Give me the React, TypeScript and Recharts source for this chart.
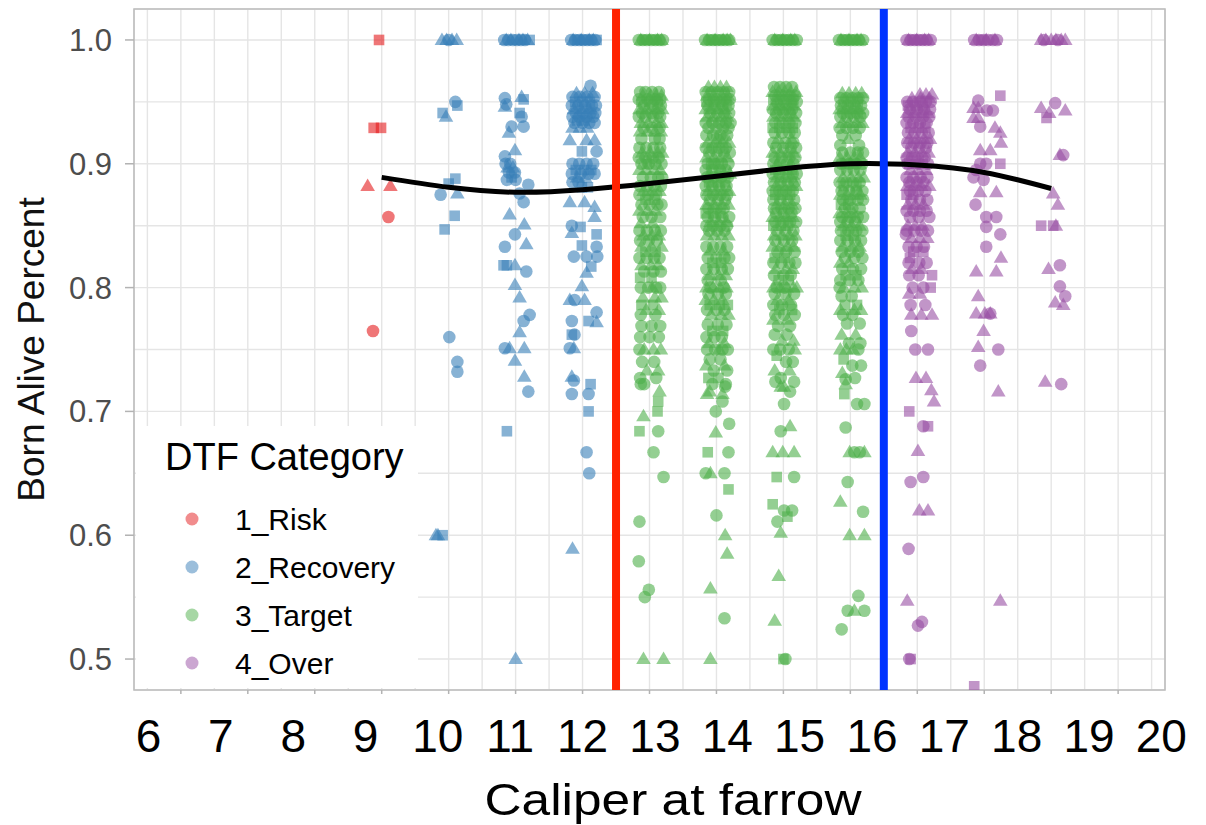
import React from 'react';
import {
  ComposedChart,
  Scatter,
  Line,
  XAxis,
  YAxis,
  CartesianGrid,
  ReferenceLine,
  ReferenceArea,
} from 'recharts';

// Row format: [born alive %, shape (0 circle, 1 triangle, 2 square), ...jitter offsets in 1/100 caliper units]
type Row = number[];

const riskCal9: Row[] = [
  [1.0, 2, -4], [0.929, 2, -12, -1], [0.882, 1, -21, 13], [0.857, 0, 10], [0.765, 0, -13],
];

const recoveryCal10: Row[] = [
  [1.0, 1, -10, -3, 5, 12], [1.0, 0, 0], [0.95, 0, 10], [0.947, 2, 13], [0.941, 2, -9], [0.938, 1, -4],
  [0.888, 2, 10], [0.884, 2, 0], [0.876, 1, 13], [0.875, 0, -12], [0.858, 2, 9], [0.847, 2, -6],
  [0.76, 0, 1], [0.74, 0, 13], [0.732, 0, 13], [0.6, 1, -19, -16], [0.6, 2, -9],
];

const recoveryCal11: Row[] = [
  [1.0, 0, -17, -11, -4, 2, 8, 14], [1.0, 1, -14, -7, 5, 11, 18], [1.0, 2, 21],
  [0.953, 0, -16], [0.954, 1, 9], [0.952, 2, 12], [0.946, 1, -16], [0.948, 0, -14], [0.941, 2, 6],
  [0.938, 0, 9], [0.93, 0, -6, 12], [0.925, 1, -10], [0.911, 1, -1], [0.906, 0, -16], [0.9, 0, -15, -8],
  [0.897, 1, -12, -4], [0.893, 0, -10, -1], [0.889, 2, -6], [0.887, 0, -13, 0], [0.883, 0, 19],
  [0.876, 0, 6], [0.869, 0, 12], [0.859, 1, -9], [0.851, 1, 13], [0.843, 0, -1], [0.833, 0, -16],
  [0.835, 1, 16], [0.818, 2, -18, -13], [0.818, 1, -1], [0.813, 0, 16], [0.802, 1, -1], [0.792, 1, 6],
  [0.778, 0, 21], [0.773, 0, 12], [0.764, 1, 6], [0.751, 0, -16], [0.751, 1, -9, 13], [0.741, 1, -1],
  [0.728, 1, 13], [0.716, 0, 19], [0.684, 2, -13], [0.5, 1, 0],
];

const recoveryCal12: Row[] = [
  [1.0, 0, -17, -11, -5, 1, 7, 13, 19], [1.0, 1, -14, -2, 10, 16], [1.0, 2, -8, 4, 21],
  [0.963, 0, 12], [0.957, 1, -9, 3, 15], [0.954, 0, -15, -4, 7, 18], [0.95, 2, -11, 0, 11],
  [0.947, 0, -16, -6, 4, 14, 20], [0.944, 1, -13, -2, 9], [0.941, 0, -10, 1, 12, 19],
  [0.938, 0, -15, -5, 6, 16], [0.935, 2, -8, 3], [0.933, 0, -12, 0, 10, 18], [0.929, 1, -15, -4, 7],
  [0.919, 1, -19, 6, 18], [0.91, 2, -1], [0.91, 0, 21],
  [0.9, 0, -15, -5, 6, 16], [0.895, 2, -10, 2, 13], [0.892, 0, -16, -3, 9, 18], [0.889, 1, -8, 4],
  [0.885, 0, -15, -6], [0.881, 2, -1, 8], [0.869, 1, -19, 3], [0.865, 1, 18], [0.857, 1, 18],
  [0.85, 0, -16], [0.849, 2, -3], [0.844, 1, -16], [0.843, 2, 21], [0.834, 2, -1], [0.833, 0, 21],
  [0.825, 0, -13, 6, 22], [0.817, 2, 13], [0.812, 1, 6], [0.801, 1, -1], [0.79, 1, -19, 3], [0.79, 0, -12],
  [0.78, 0, 21], [0.772, 1, 21], [0.773, 2, 9], [0.773, 0, -16], [0.762, 2, -16], [0.762, 0, -12],
  [0.751, 0, -19], [0.751, 1, -13], [0.728, 1, -16], [0.725, 0, -13], [0.722, 2, 12], [0.714, 0, 9, -16],
  [0.7, 2, 9], [0.667, 0, 6], [0.65, 0, 10], [0.589, 1, -15],
];

const targetCal13: Row[] = [
  [1.0, 0, -16, -10, -4, 3, 9, 15, 20], [1.0, 1, -13, 0, 12, 18], [1.0, 2, -7, 6],
  [0.958, 0, -14, -6, 4, 14], [0.955, 1, -10, 2, 10, 18], [0.952, 0, -16, -3, 8, 16], [0.95, 2, -12, 0, 12],
  [0.947, 0, -8, 5, 17], [0.944, 1, -15, -4, 9, 19], [0.941, 0, -11, 3, 13], [0.938, 0, -16, -6, 6, 16],
  [0.933, 1, -13, -2, 10, 18], [0.929, 0, -9, 4, 15], [0.926, 1, -14, -3, 8, 17], [0.92, 0, -12, 8, 15],
  [0.913, 0, -15, -5, 6, 16], [0.909, 1, -11, 1, 12, 19], [0.905, 0, -16, -6, 5, 14], [0.9, 0, -12, -1, 9, 18],
  [0.9, 2, -4], [0.895, 1, -15, -5, 7, 16], [0.889, 0, -10, 2, 13, 19],
  [0.882, 0, -14, -4, 7, 17], [0.878, 1, -9, 4, 15], [0.875, 0, -15, -2, 10], [0.871, 2, -6, 8],
  [0.867, 0, -12, 0, 12, 18], [0.862, 1, -15, -3, 9], [0.857, 0, -10, 3, 16], [0.852, 1, -13, 5],
  [0.846, 0, -15, -4, 8, 17], [0.842, 1, -9, 4, 14], [0.838, 0, -14, -1, 11], [0.833, 1, -12, 3, 18],
  [0.829, 2, -6, 9], [0.824, 0, -15, -4, 7, 15], [0.818, 1, -12, 2, 13], [0.813, 0, -8, 6, 17],
  [0.808, 2, -14, 3], [0.8, 0, -13, -2, 10, 16], [0.8, 1, 4], [0.792, 1, -10, 8, 18], [0.786, 2, -12, 5],
  [0.782, 1, -5, 14], [0.778, 0, -13, 9], [0.769, 0, -12, 3, 16], [0.76, 0, -14, 0, 14],
  [0.75, 1, -8, 6, 17], [0.75, 0, -15], [0.74, 0, -11, 7], [0.733, 1, -4, 13], [0.727, 0, -14, 10],
  [0.722, 0, -13, -8], [0.716, 1, 15], [0.708, 2, 13], [0.7, 2, 12], [0.696, 1, -9], [0.684, 2, -15],
  [0.684, 0, 13], [0.667, 0, 6], [0.647, 0, 21], [0.611, 0, -15], [0.579, 0, -16], [0.556, 0, -1],
  [0.55, 0, -7], [0.5, 1, -9, 21],
];

const targetCal14: Row[] = [
  [1.0, 0, -17, -11, -5, 1, 7, 13, 19], [1.0, 1, -14, -2, 10, 16, 21], [1.0, 2, -8, 4],
  [0.962, 1, -12, -3, 6, 15], [0.958, 0, -16, -7, 2, 11, 19], [0.955, 1, -14, -4, 8, 17],
  [0.952, 0, -11, 0, 12, 20], [0.95, 2, -15, -5, 5, 15], [0.947, 0, -13, -2, 9, 18],
  [0.944, 1, -16, -7, 3, 13], [0.941, 0, -10, 1, 11, 19], [0.938, 1, -14, -4, 7, 16],
  [0.933, 0, -16, -6, 4, 14, 21], [0.929, 0, -12, 0, 10, 18], [0.923, 0, -15, -5, 6, 16], [0.92, 2, 0, 10],
  [0.917, 1, -13, -2, 9, 19], [0.913, 0, -16, -6, 4, 14], [0.909, 0, -11, 0, 11, 20], [0.905, 1, -15, -4, 7, 16],
  [0.9, 0, -13, -3, 8, 18], [0.9, 2, -8, 3], [0.895, 0, -16, -6, 5, 14], [0.892, 1, -10, 2, 12, 20],
  [0.889, 0, -14, -4, 7, 17], [0.885, 2, -11, 1, 13], [0.882, 0, -16, -6, 4, 15], [0.878, 1, -12, 0, 10, 19],
  [0.875, 0, -15, -5, 6, 16], [0.871, 0, -10, 2, 13], [0.867, 1, -15, -4, 8, 18], [0.864, 0, -12, 0, 11],
  [0.86, 2, -16, -5, 6], [0.857, 0, -13, -2, 9, 19], [0.853, 1, -9, 3, 15], [0.85, 0, -15, -5, 6, 16],
  [0.846, 0, -11, 1, 12], [0.842, 1, -14, -3, 8, 18], [0.833, 0, -15, -5, 6, 16], [0.83, 1, -9, 10],
  [0.824, 0, -13, 0, 12, 19], [0.82, 2, -6, 7], [0.815, 0, -15, -4, 8, 17], [0.81, 1, -10, 3, 14],
  [0.806, 0, -13, 6], [0.8, 1, -15, -5, 5, 15], [0.8, 0, -9, 11], [0.795, 0, -12, 2, 14],
  [0.79, 1, -16, -4, 9], [0.786, 2, -10, 5, 17], [0.782, 0, -14, 0, 12], [0.778, 1, -8, 7, 18],
  [0.77, 0, -13, 2, 15], [0.765, 2, -6, 10], [0.76, 0, -15, -3, 8], [0.755, 1, -11, 12],
  [0.75, 0, -14, -2, 9, 17], [0.75, 1, 4], [0.742, 0, -10, 6], [0.737, 1, -15, 12], [0.733, 0, -4, 16],
  [0.727, 2, -12, 3], [0.722, 0, -6, 14], [0.72, 0, 13], [0.716, 1, -10], [0.714, 1, -14, 9],
  [0.708, 0, 9], [0.7, 0, -1], [0.69, 0, 19], [0.683, 1, -1], [0.667, 2, -13], [0.667, 0, 18],
  [0.65, 0, -16, 12], [0.65, 1, -9], [0.637, 2, 18], [0.616, 0, 0], [0.6, 1, 13], [0.585, 1, 16],
  [0.557, 1, -9], [0.533, 0, 12], [0.5, 1, -9],
];

const targetCal15: Row[] = [
  [1.0, 0, -16, -10, -4, 2, 8, 14, 20], [1.0, 1, -13, -1, 11, 17], [1.0, 2, -7, 5],
  [0.962, 0, -14, -5, 4, 13], [0.958, 1, -16, -7, 2, 11, 19], [0.955, 0, -12, -2, 8, 17],
  [0.952, 2, -15, -5, 5, 15], [0.95, 0, -10, 1, 12, 20], [0.947, 1, -14, -4, 7, 16],
  [0.944, 0, -16, -6, 3, 13], [0.941, 0, -11, 0, 10, 19], [0.938, 1, -15, -5, 6, 15],
  [0.933, 0, -12, -1, 9, 18], [0.929, 2, -16, -6, 4, 14], [0.925, 0, -13, -2, 9, 17], [0.92, 1, -8, 12],
  [0.917, 0, -15, 3, 15], [0.913, 0, -11, 0, 11, 19], [0.909, 1, -16, -5, 6, 15], [0.905, 0, -13, -2, 9, 18],
  [0.9, 0, -15, -5, 5, 15], [0.9, 1, -9, 11], [0.895, 2, -12, 1, 13], [0.892, 0, -16, -6, 4, 14, 20],
  [0.889, 1, -10, 2, 12], [0.885, 0, -14, -4, 7, 17], [0.882, 1, -11, 0, 11, 19], [0.878, 0, -16, -6, 4, 14],
  [0.875, 2, -12, -1, 10], [0.871, 0, -15, -5, 6, 16], [0.867, 1, -10, 2, 13], [0.864, 0, -14, -3, 8, 18],
  [0.86, 0, -11, 1, 12], [0.857, 1, -16, -6, 4, 14], [0.853, 0, -12, 0, 10, 19], [0.85, 2, -15, -4, 7],
  [0.846, 0, -10, 3, 15], [0.842, 1, -14, -2, 9, 18], [0.838, 0, -12, 1, 13], [0.833, 1, -16, -5, 6, 15],
  [0.829, 0, -9, 4, 17], [0.824, 2, -13, 2], [0.82, 0, -15, -3, 9, 18], [0.815, 1, -11, 4, 14],
  [0.81, 0, -14, 0, 11], [0.806, 2, -7, 8], [0.8, 1, -15, -5, 5, 15, 20], [0.8, 0, -10, 2],
  [0.795, 0, -13, 3, 16], [0.79, 1, -9, 8], [0.786, 0, -15, -2, 11], [0.782, 2, -6, 13],
  [0.778, 0, -12, 1, 17], [0.774, 1, -15, 6], [0.769, 0, -8, 10], [0.762, 0, -13, 5], [0.757, 1, -2, 15],
  [0.75, 0, -15, -5, 8], [0.75, 1, 17], [0.745, 2, -10], [0.74, 0, 4, 14], [0.733, 1, -13, 9], [0.727, 0, -4],
  [0.724, 0, -12, 16], [0.72, 1, 1, -4], [0.716, 0, 10], [0.706, 0, 1], [0.684, 0, -4], [0.688, 1, 10],
  [0.667, 1, -16, 16, -1], [0.647, 2, -10], [0.647, 0, 16], [0.625, 2, -16], [0.62, 0, 1, 13],
  [0.615, 2, 6], [0.611, 0, -9], [0.602, 1, -4], [0.567, 1, -7], [0.531, 1, -13], [0.5, 0, 3], [0.5, 2, 0],
];

const targetCal16: Row[] = [
  [1.0, 0, -17, -11, -5, 1, 7, 13, 19], [1.0, 1, -14, -2, 10, 16], [1.0, 2, -8, 4],
  [0.957, 1, -12, -2, 8, 17], [0.953, 0, -15, -6, 3, 12, 19], [0.95, 2, -10, 1, 11],
  [0.947, 0, -14, -4, 6, 16], [0.944, 1, -16, -7, 3, 13], [0.941, 0, -11, 0, 10, 19],
  [0.938, 0, -15, -5, 6, 15], [0.933, 1, -12, -2, 9, 18], [0.929, 0, -16, -6, 4, 14],
  [0.923, 0, -12, 8], [0.92, 1, -3], [0.915, 0, -15, 13],
  [0.909, 0, -12, 0, 11, 19], [0.905, 1, -16, -5, 6, 15], [0.9, 0, -13, -2, 9, 18], [0.9, 2, -8, 4],
  [0.895, 0, -15, -5, 5, 15], [0.889, 1, -11, 1, 12, 20], [0.885, 0, -16, -6, 4, 14], [0.882, 2, -10, 9],
  [0.878, 0, -13, -2, 9, 18], [0.875, 1, -15, -5, 5, 15], [0.871, 0, -11, 0, 11, 19], [0.867, 2, -14, -3],
  [0.864, 0, -8, 3, 14], [0.86, 1, -16, -6, 5], [0.857, 0, -12, 0, 11, 19], [0.853, 0, -15, -4, 7],
  [0.85, 1, -10, 2, 14], [0.846, 0, -14, -3, 9, 18], [0.842, 2, -7, 5], [0.838, 0, -15, -4, 7, 16],
  [0.833, 1, -11, 3, 14], [0.829, 0, -13, 0, 12], [0.824, 0, -8, 6, 18], [0.82, 1, -15, -2],
  [0.815, 0, -12, 4, 16], [0.81, 2, -7, 9], [0.806, 0, -15, -1, 12], [0.8, 1, -10, 6, 17], [0.8, 0, -16],
  [0.793, 0, -13, 2], [0.786, 2, -8, 10], [0.782, 1, -15, 6, 16], [0.778, 0, -11, 3], [0.771, 0, -5, 14],
  [0.762, 1, -13, 8], [0.755, 0, -2, 15], [0.75, 1, -15, -6, 4], [0.75, 0, 12], [0.742, 2, -10],
  [0.737, 0, 3, 16], [0.731, 1, -12], [0.727, 0, 7], [0.726, 0, -7], [0.722, 1, -7], [0.714, 2, -9],
  [0.706, 0, 10, 21], [0.687, 0, -7], [0.667, 1, -1, 21], [0.667, 0, 6, 14], [0.643, 0, -4],
  [0.627, 1, -15], [0.619, 0, 19], [0.6, 1, -1, 21], [0.551, 0, 12], [0.539, 0, -4, 21], [0.539, 1, 6],
  [0.524, 0, -13],
];

const overCal17: Row[] = [
  [1.0, 0, -16, -10, -4, 2, 8, 14, 20], [1.0, 1, -13, -1, 11, 17], [1.0, 2, -7, 5],
  [0.956, 1, 4, 13, 22], [0.953, 1, -8, 5, 18], [0.95, 0, -15, -6, 4, 13, 20], [0.947, 2, -14, -3, 8],
  [0.944, 0, -11, 0, 10, 19], [0.941, 1, -15, -5, 6, 16], [0.938, 0, -13, -2, 9, 18],
  [0.933, 0, -16, -6, 4, 14], [0.929, 2, -10, 2, 12], [0.925, 0, -14, -4, 7, 17], [0.92, 1, -12, -1, 10, 19],
  [0.917, 0, -15, -5, 5, 15], [0.913, 0, -9, 3, 13], [0.909, 1, -14, -4, 7, 17], [0.905, 0, -16, -8, 1, 11],
  [0.9, 2, -12, -2, 8], [0.9, 0, -15, 3, 16], [0.895, 1, -10, 1, 13], [0.889, 0, -16, -6, 5, 15],
  [0.885, 0, -12, -1, 9], [0.882, 1, -15, -5, 6, 18], [0.878, 0, -11, 1, 12], [0.875, 2, -16, -6],
  [0.871, 0, -9, 4, 15], [0.867, 1, -14, -3, 9], [0.862, 0, -16, -6, 4, 14], [0.857, 0, -11, 2, 18],
  [0.85, 1, -14, -3, 8], [0.846, 0, -16, -5, 6, 16], [0.843, 0, -17], [0.84, 1, -9, 4, 15],
  [0.833, 0, -13, -1, 10], [0.829, 2, -6, 9], [0.824, 2, -11], [0.82, 0, -13, 3, 14], [0.815, 1, -8, 6],
  [0.81, 2, 22], [0.81, 0, -12, 2], [0.8, 2, 20], [0.8, 0, -7, 9], [0.795, 1, -12, 4], [0.786, 0, -10, 12],
  [0.778, 1, -9, 6, 22], [0.765, 0, -9], [0.75, 0, -3, 16], [0.727, 1, -2, 13], [0.717, 1, 21],
  [0.708, 1, 25], [0.7, 2, -12], [0.688, 0, 9], [0.688, 2, 16], [0.668, 1, 1], [0.647, 0, 9],
  [0.643, 0, -10], [0.62, 1, 3, 16], [0.589, 0, -13], [0.547, 1, -15], [0.53, 0, 7], [0.527, 0, 1],
  [0.5, 0, -12], [0.5, 2, -10],
];

const overCal18: Row[] = [
  [1.0, 0, -15, -8, -1, 6, 13, 19], [1.0, 1, -12, 3, 16], [1.0, 2, -4],
  [0.955, 2, 24], [0.951, 0, -9], [0.945, 1, -16, -9], [0.943, 0, 4, 13], [0.937, 1, -16, -9],
  [0.93, 0, -6], [0.929, 1, 16], [0.925, 1, 24], [0.917, 1, 25], [0.911, 1, -6, 9], [0.9, 0, -6, 3],
  [0.9, 2, 24], [0.895, 0, -12], [0.889, 0, -16], [0.887, 0, -1], [0.877, 1, -6, 18], [0.867, 0, -13],
  [0.857, 0, 3, 18], [0.849, 0, 3], [0.843, 0, 24], [0.833, 0, 3], [0.824, 1, 25], [0.813, 1, -12, 18],
  [0.793, 1, -9], [0.779, 1, -12, 1, 9], [0.779, 0, 9], [0.765, 1, -1], [0.752, 1, -9], [0.75, 0, 21],
  [0.737, 0, -6], [0.716, 1, 21], [0.547, 1, 24], [0.478, 2, -15],
];

const overCal19: Row[] = [
  [1.0, 1, -15, -8, 0, 7, 15, 21], [1.0, 0, -11, 10],
  [0.949, 0, 6], [0.945, 1, -15], [0.943, 1, 21], [0.941, 1, -3], [0.937, 2, -7], [0.907, 0, 18],
  [0.907, 1, 13], [0.876, 1, 3], [0.867, 1, 10], [0.85, 2, -15, 3], [0.85, 1, 7], [0.818, 0, 13],
  [0.815, 1, -4], [0.801, 0, 13], [0.793, 0, 21], [0.788, 1, 6], [0.786, 1, 18], [0.724, 1, -9],
  [0.722, 0, 15],
];

const categories = ['1_Risk', '2_Recovery', '3_Target', '4_Over'];
const categoryColors = ['#E41A1C', '#377EB8', '#4DAF4A', '#984EA3'];
const categoryColumns = [
  [{ caliper: 9, rows: riskCal9 }],
  [
    { caliper: 10, rows: recoveryCal10 },
    { caliper: 11, rows: recoveryCal11 },
    { caliper: 12, rows: recoveryCal12 },
  ],
  [
    { caliper: 13, rows: targetCal13 },
    { caliper: 14, rows: targetCal14 },
    { caliper: 15, rows: targetCal15 },
    { caliper: 16, rows: targetCal16 },
  ],
  [
    { caliper: 17, rows: overCal17 },
    { caliper: 18, rows: overCal18 },
    { caliper: 19, rows: overCal19 },
  ],
];

// smooth (loess) fit
const smoothCaliper = [9, 10, 11, 12, 13, 14, 15, 16, 17, 18, 19];
const smoothBornAlive = [0.889, 0.881, 0.877, 0.879, 0.884, 0.89, 0.896, 0.9, 0.899, 0.893, 0.88];

const thresholds = [12.5, 16.5];
const thresholdColors = ['#FF2200', '#0033FF'];

// grid breaks (major + minor)
const yGridTicks = [0.5, 0.55, 0.6, 0.65, 0.7, 0.75, 0.8, 0.85, 0.9, 0.95, 1.0];
const xGridTicks = [
  5.5, 6, 6.5, 7, 7.5, 8, 8.5, 9, 9.5, 10, 10.5, 11, 11.5, 12, 12.5, 13, 13.5,
  14, 14.5, 15, 15.5, 16, 16.5, 17, 17.5, 18, 18.5, 19, 19.5, 20, 20.5,
];
// overlaid caliper labels
const xLabelTicks = [6, 7, 8, 9, 10, 11, 12, 13, 14, 15, 16, 17, 18, 19, 20];

const X_DOMAIN: [number, number] = [5.3, 20.7];
const Y_DOMAIN: [number, number] = [0.475, 1.025];
const LABEL_DOMAIN: [number, number] = [5.8, 20.05];

const FONT = '"Liberation Sans", Arial, Helvetica, sans-serif';

type Pt = { x: number; y: number; s: number };

const toPoints = (cols: { caliper: number; rows: Row[] }[]): Pt[] =>
  cols.flatMap(({ caliper, rows }) =>
    rows.flatMap(([y, s, ...dx]) => dx.map((d) => ({ x: caliper + d / 100, y, s })))
  );

const seriesData = categoryColumns.map(toPoints);
const smoothData = smoothCaliper.map((x, i) => ({ x, y: smoothBornAlive[i] }));
const labelAnchorData = xLabelTicks.map((x) => ({ x, y: Y_DOMAIN[0] }));

const isMajor = (v: number, step: number) => Math.abs(v / step - Math.round(v / step)) < 1e-6;

const renderMark = (color: string) => (props: any) => {
  const { cx, cy, payload } = props;
  if (cx == null || cy == null || !payload) return <g />;
  const common = { fill: color, fillOpacity: 0.6, stroke: 'none' };
  if (payload.s === 1) {
    return (
      <polygon
        points={`${cx},${cy - 7.5} ${cx - 7.3},${cy + 5} ${cx + 7.3},${cy + 5}`}
        {...common}
      />
    );
  }
  if (payload.s === 2) {
    return <rect x={cx - 5.3} y={cy - 5.3} width={10.6} height={10.6} {...common} />;
  }
  return <circle cx={cx} cy={cy} r={6.3} {...common} />;
};

const XTickMark = (props: any) => {
  const { x, y, payload } = props;
  if (!payload || !isMajor(payload.value, 1)) return <g />;
  return <line x1={x} x2={x} y1={y} y2={y + 4} stroke="#B3B3B3" strokeWidth={1.5} />;
};

const YTick = (props: any) => {
  const { x, y, payload } = props;
  if (!payload || !isMajor(payload.value, 0.1)) return <g />;
  return (
    <g>
      <line x1={x - 9} x2={x} y1={y} y2={y} stroke="#B3B3B3" strokeWidth={1.5} />
      <text
        x={x - 22}
        y={y + 11}
        textAnchor="end"
        fontFamily={FONT}
        fontSize={31}
        fill="#4D4D4D"
      >
        {Number(payload.value).toFixed(1)}
      </text>
    </g>
  );
};

const YTitle = () => (
  <text
    x={44}
    y={349.5}
    transform="rotate(-90 44 349.5)"
    textAnchor="middle"
    fontFamily={FONT}
    fontSize={37}
    fill="#111"
  >
    Born Alive Percent
  </text>
);

const XTitle = () => (
  <text
    x={673}
    y={815}
    textAnchor="middle"
    fontFamily={FONT}
    fontSize={45}
    fill="#000"
    textLength={377}
    lengthAdjust="spacingAndGlyphs"
  >
    Caliper at farrow
  </text>
);

const Legend = () => (
  <div
    style={{
      position: 'absolute',
      left: 136,
      top: 426,
      width: 282,
      height: 262,
      background: '#fff',
    }}
  >
    <svg width={282} height={262}>
      <text x={29} y={44} fontFamily={FONT} fontSize={38} fill="#000">
        DTF Category
      </text>
      {categories.map((c, i) => (
        <g key={c}>
          <circle cx={56} cy={93 + i * 48} r={6.5} fill={categoryColors[i]} fillOpacity={0.5} />
          <text x={99} y={93 + i * 48 + 10.5} fontFamily={FONT} fontSize={30} fill="#000">
            {c}
          </text>
        </g>
      ))}
    </svg>
  </div>
);

export default function App() {
  return (
    <div style={{ position: 'absolute', left: 0, top: 0, width: 1206, height: 825, background: '#fff' }}>
      <ComposedChart
        width={1206}
        height={825}
        margin={{ top: 9, right: 41, bottom: 0, left: 0 }}
      >
        <XAxis
          xAxisId="c"
          dataKey="x"
          type="number"
          domain={X_DOMAIN}
          allowDataOverflow
          ticks={xGridTicks}
          interval={0}
          tick={<XTickMark />}
          tickSize={0}
          tickMargin={0}
          tickLine={false}
          axisLine={false}
          height={4}
        />
        <XAxis
          xAxisId="lab"
          dataKey="x"
          type="number"
          domain={LABEL_DOMAIN}
          allowDataOverflow
          ticks={xLabelTicks}
          interval={0}
          tickLine={false}
          axisLine={false}
          tickSize={0}
          tickMargin={25}
          height={131}
          tick={{ fill: '#000', fontSize: 46, fontFamily: FONT }}
          label={{ content: () => <XTitle /> }}
        />
        <YAxis
          yAxisId="v"
          dataKey="y"
          type="number"
          domain={Y_DOMAIN}
          allowDataOverflow
          ticks={yGridTicks}
          interval={0}
          width={134}
          tickSize={0}
          tickMargin={0}
          tickLine={false}
          axisLine={false}
          tick={<YTick />}
          label={{ content: () => <YTitle /> }}
        />
        <CartesianGrid xAxisId="c" yAxisId="v" stroke="#E5E5E5" strokeWidth={1.4} fill="none" />
        <ReferenceArea
          xAxisId="c"
          yAxisId="v"
          x1={X_DOMAIN[0]}
          x2={X_DOMAIN[1]}
          y1={Y_DOMAIN[0]}
          y2={Y_DOMAIN[1]}
          fill="none"
          fillOpacity={0}
          stroke="#BDBDBD"
          strokeWidth={1.6}
          ifOverflow="visible"
        />
        <Scatter
          xAxisId="lab"
          yAxisId="v"
          data={labelAnchorData}
          dataKey="y"
          shape={() => <g />}
          legendType="none"
          isAnimationActive={false}
        />
        {seriesData.map((pts, i) => (
          <Scatter
            key={categories[i]}
            name={categories[i]}
            xAxisId="c"
            yAxisId="v"
            data={pts}
            dataKey="y"
            fill={categoryColors[i]}
            shape={renderMark(categoryColors[i])}
            isAnimationActive={false}
          />
        ))}
        <Line
          xAxisId="c"
          yAxisId="v"
          data={smoothData}
          dataKey="y"
          type="natural"
          stroke="#000"
          strokeWidth={5}
          dot={false}
          activeDot={false}
          isAnimationActive={false}
          zIndex={900}
        />
        {thresholds.map((t, i) => (
          <ReferenceLine
            key={t}
            xAxisId="c"
            yAxisId="v"
            x={t}
            stroke={thresholdColors[i]}
            strokeWidth={8}
            zIndex={1000}
          />
        ))}
      </ComposedChart>
      <Legend />
    </div>
  );
}
